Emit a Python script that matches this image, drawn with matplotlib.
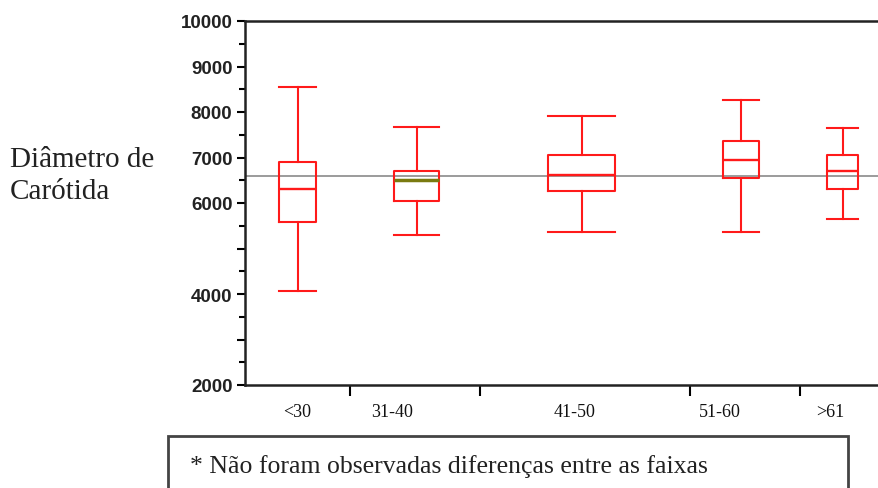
import numpy as np
import matplotlib
matplotlib.use("Agg")
import matplotlib.pyplot as plt
from matplotlib.patches import Rectangle

# faixas etarias e estatisticas das caixas
groups = ['<30', '31-40', '41-50', '51-60', '>61']
whislo = [4070, 5300, 5360, 5360, 5650]
q1 = [5580, 6040, 6260, 6550, 6310]
med = [6310, 6500, 6620, 6950, 6700]
q3 = [6900, 6700, 7060, 7360, 7060]
whishi = [8550, 7670, 7910, 8260, 7650]
grand_mean = 6600

ytick_vals = [2000, 3000, 4000, 5000, 6000, 7000, 8000, 9000, 10000]
ytick_labels = ['2000', '', '4000', '', '6000', '7000', '8000', '9000', '10000']

# layout (axis units 0-634, matching the pixel grid of the original)
pos = [53, 172, 337, 496, 598]
widths = [37, 45, 67, 36, 31]
label_pos = [52, 147, 330, 475, 585]
seps = [105, 235, 445, 555]

fig = plt.figure(figsize=(8.79, 4.89), dpi=100)
ax = fig.add_axes([245/879, 1-386/489, 634/879, 364/489])

stats = []
for i in range(len(groups)):
    stats.append({'whislo': whislo[i], 'q1': q1[i], 'med': med[i],
                  'q3': q3[i], 'whishi': whishi[i], 'fliers': []})

red = '#ff1a1a'
bp = ax.bxp(stats, positions=pos, widths=widths, capwidths=widths,
            showfliers=False, manage_ticks=False,
            boxprops=dict(color=red, lw=1.5),
            whiskerprops=dict(color=red, lw=1.5),
            capprops=dict(color=red, lw=1.5),
            medianprops=dict(color=red, lw=1.7))
bp['medians'][1].set_color('#7a7a10')
bp['medians'][1].set_linewidth(2.5)

ax.axhline(grand_mean, color='#8a8a8a', lw=1.2, zorder=0)

ax.set_xlim(0, 634)
ax.set_ylim(2000, 10000)

for s in ['right']:
    ax.spines[s].set_visible(False)
for s in ['left', 'bottom', 'top']:
    ax.spines[s].set_linewidth(1.8)
    ax.spines[s].set_color('#222222')

ax.set_yticks(ytick_vals)
ax.set_yticklabels(ytick_labels, fontfamily='Liberation Sans', fontsize=13.5, fontweight='bold', color='#222222')
ax.set_yticks(np.arange(2500, 10000, 1000), minor=True)
ax.tick_params(axis='y', which='major', direction='out', length=6, width=1.5, pad=3)
ax.tick_params(axis='y', which='minor', direction='out', length=4, width=1.5)

ax.set_xticks(seps)
ax.set_xticklabels([])
ax.set_xticks(label_pos, minor=True)
ax.set_xticklabels(groups, minor=True, fontfamily='Liberation Serif', fontsize=13, color='#111111')
ax.tick_params(axis='x', which='minor', length=0, pad=13)
ax.tick_params(axis='x', which='major', direction='out', length=8, width=1.5)

fig.text(10/879, 1-160/489, 'Diâmetro de', fontfamily='Liberation Serif', fontsize=21,
         va='center', ha='left', color='#222222')
fig.text(10/879, 1-192/489, 'Carótida', fontfamily='Liberation Serif', fontsize=21,
         va='center', ha='left', color='#222222')

# caixa de nota
fig.patches.append(Rectangle((168/879, -0.05), (848-168)/879, 0.05+(489-437)/489,
                             transform=fig.transFigure, fill=False,
                             edgecolor='#444444', lw=2))
fig.text(190/879, 1-467/489, '* Não foram observadas diferenças entre as faixas',
         fontfamily='Liberation Serif', fontsize=18.5, va='center', ha='left', color='#222222')

fig.savefig('out.png', dpi=100)
